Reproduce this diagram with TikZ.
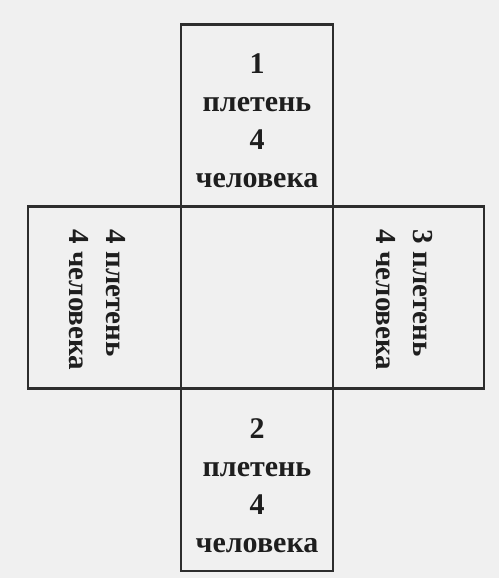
\documentclass[tikz,border=0pt]{standalone}
\usepackage{fontspec}
\setmainfont{Liberation Serif}
\definecolor{bgcol}{RGB}{240,240,240}
\definecolor{linecol}{RGB}{45,45,45}
\definecolor{textcol}{RGB}{30,30,30}
\begin{document}
\begin{tikzpicture}[x=1pt,y=-1pt,
  cell/.style={draw=linecol, line width=2.2pt, minimum width=#1, minimum height=182pt, inner sep=0pt},
  horiztext/.style={align=center, inner sep=0pt, text=textcol, font=\fontsize{30}{38}\selectfont\bfseries},
  rottext/.style={rotate=-90, align=left, inner sep=0pt, text=textcol, font=\fontsize{29}{37}\selectfont\bfseries}]
\fill[bgcol] (0,0) rectangle (499,578);
\useasboundingbox (0,0) rectangle (499,578);
\node[cell=152pt] (top) at (257,115.5) {};
\node[cell=152pt] (mid) at (257,297.5) {};
\node[cell=153pt] (left) at (104.5,297.5) {};
\node[cell=151pt] (right) at (408.5,297.5) {};
\node[cell=152pt] (bot) at (257,480) {};
\node[horiztext] (toptext) at (257,121) {1\\плетень\\4\\человека};
\node[horiztext] (bottext) at (257,486) {2\\плетень\\4\\человека};
\node[rottext] (lefttext) at (97,300) {4 плетень\\4 человека};
\node[rottext] (righttext) at (404,300) {3 плетень\\4 человека};
\end{tikzpicture}
\end{document}
